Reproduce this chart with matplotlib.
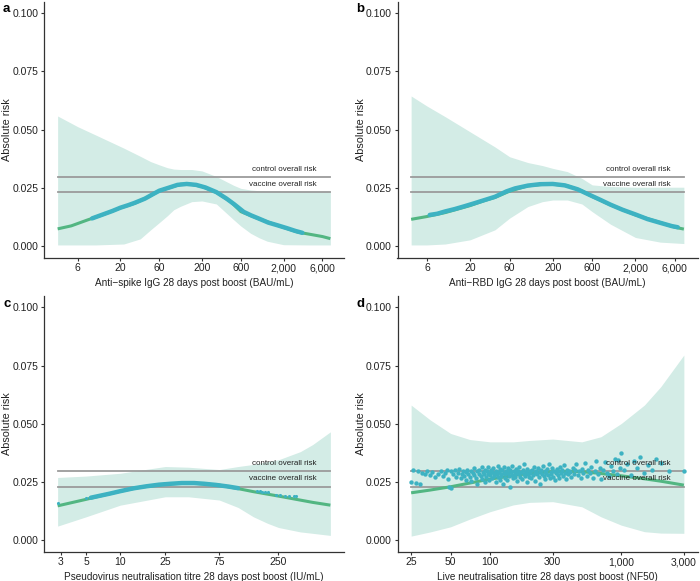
import matplotlib
matplotlib.use("Agg")
import matplotlib.pyplot as plt
import numpy as np

plt.rcParams['font.family'] = ['Liberation Sans', 'DejaVu Sans']

# ---- data ----
control_risk = 0.0295
vaccine_risk = 0.023

# panel a: anti-spike IgG
a_curve_x = [3.4, 5, 8, 12, 20, 30, 45, 60, 80, 110, 150, 200, 300, 450, 600, 1000, 2000, 3000, 6000, 7500]
a_curve_y = [.0073, .0086, .0112, .0133, .0163, .0183, .0212, .0237, .0250, .0265, .0264, .0255, .0230, .0190,
             .0147, .0116, .0079, .0059, .0040, .0031]
a_rib_x = [3.4, 6, 10, 22, 35, 47, 60, 75, 90, 109, 150, 200, 300, 490, 600, 790, 1000, 1260, 2000, 4000, 7500]
a_rib_hi = [.0558, .0512, .0476, .0420, .0385, .0362, .0348, .0336, .0330, .0328, .0328, .0322, .0298, .0260,
            .0247, .0240, .0237, .0236, .0235, .0234, .0233]
a_rib_lo = [.0004, .0004, .0004, .0008, .0030, .0069, .0100, .0129, .0155, .0170, .0190, .0193, .0180, .0112,
            .0085, .0054, .0035, .0020, .0005, .0004, .0004]
a_pts_x = [9, 12, 16, 20, 25, 30, 40, 50, 60, 80, 100, 130, 170, 220, 300, 400, 500, 650, 800, 1000, 1300,
           1700, 2200, 2800, 3400]
a_pts_y = [.0118, .0134, .0150, .0164, .0175, .0185, .0203, .0222, .0237, .0251, .0262, .0266, .0262, .0251,
           .0231, .0203, .0178, .0146, .0131, .0117, .0100, .0088, .0076, .0064, .0056]

# panel b: anti-RBD IgG
b_curve_x = [3.87, 6, 10, 20, 30, 40, 60, 100, 150, 200, 300, 450, 600, 1000, 2000, 4000, 6000, 7710]
b_curve_y = [.0114, .0126, .0143, .0173, .0195, .0208, .0235, .0258, .0264, .0265, .0258, .0236, .0212, .0176,
             .0133, .0100, .0080, .0072]
b_rib_x = [3.87, 6, 10, 20, 40, 60, 100, 150, 200, 300, 450, 600, 1000, 2000, 4000, 7710]
b_rib_hi = [.0644, .0601, .0555, .0490, .0425, .0383, .0358, .0345, .0333, .0319, .0290, .0262, .0255, .0252,
            .0252, .0252]
b_rib_lo = [.0004, .0004, .0008, .0026, .0069, .0119, .0169, .0190, .0197, .0197, .0180, .0147, .0093, .0036,
            .0016, .0010]
b_pts_x = [6.5, 8, 10, 13, 17, 22, 30, 40, 55, 70, 100, 140, 200, 280, 400, 550, 750, 1000, 1400, 2000, 2800,
           4000, 5500, 6500]
b_pts_y = [.0133, .0138, .0148, .0158, .0170, .0182, .0197, .0211, .0234, .0247, .0259, .0265, .0266, .0260,
           .0243, .0220, .0198, .0177, .0155, .0135, .0115, .0099, .0085, .0080]

# panel c: pseudovirus neutralisation
c_curve_x = [2.8, 5, 10, 15, 25, 40, 75, 110, 150, 250, 500, 718]
c_curve_y = [.0147, .0175, .0210, .0227, .0240, .0246, .0236, .0221, .0208, .0189, .0162, .0150]
c_rib_x = [2.8, 5, 10, 25, 40, 75, 110, 150, 200, 250, 390, 500, 718]
c_rib_hi = [.0269, .0275, .0287, .0316, .0313, .0303, .0316, .0325, .0337, .0345, .0380, .0410, .0465]
c_rib_lo = [.0060, .0100, .0150, .0186, .0186, .0172, .0140, .0100, .0072, .0054, .0035, .0029, .0020]
c_pts_x = [5.5, 6, 8, 10, 13, 17, 22, 28, 35, 45, 55, 70, 90, 110]
c_pts_y = [.0182, .0186, .0199, .0210, .0222, .0231, .0238, .0242, .0245, .0245, .0242, .0237, .0230, .0223]
c_dots_x = [2.8, 5, 160, 170, 180, 190, 200, 240, 260, 285, 310, 340, 360]
c_dots_y = [.0158, .0180, .0210, .0209, .0208, .0207, .0206, .0193, .0192, .0191, .0190, .0189, .0188]

# panel d: live neutralisation
d_curve_x = [25, 35, 50, 70, 100, 150, 200, 300, 450, 520, 700, 1000, 1430, 2000, 3000]
d_curve_y = [.0203, .0215, .0229, .0245, .0262, .0277, .0287, .0294, .0295, .0293, .0286, .0276, .0265, .0253, .0236]
d_rib_x = [25, 35, 50, 70, 100, 150, 200, 300, 500, 700, 1000, 1500, 2000, 3000]
d_rib_hi = [.0580, .0516, .0458, .0432, .0422, .0422, .0428, .0434, .0422, .0444, .0501, .0580, .0659, .0795]
d_rib_lo = [.0017, .0035, .0057, .0090, .0122, .0151, .0162, .0165, .0143, .0100, .0064, .0036, .0030, .0029]
d_pts_x = [25, 26, 27, 28, 29, 30, 32, 33, 35, 36, 38, 40, 42, 44, 45, 47, 48, 49, 50, 50,
           52, 54, 55, 57, 58, 60, 61, 62, 63, 65, 66, 67, 68, 70, 71, 72, 74, 75, 76, 78, 79, 80, 82, 83, 85,
           86, 87, 88, 90, 91, 92, 93, 95, 96, 97, 98, 99,
           100, 101, 103, 104, 105, 107, 108, 110, 111, 112, 114, 115, 117, 118, 120, 121, 122, 124, 125, 127,
           128, 130, 131, 133, 135, 136, 138, 140, 141, 143, 145, 147, 148, 150, 152, 154, 155, 157, 159, 160,
           162, 165, 167, 170, 172, 175, 177, 180, 182, 185, 187, 190, 192, 195, 197, 200,
           203, 206, 209, 212, 215, 218, 221, 225, 228, 231, 235, 238, 242, 245, 249, 252, 256, 260, 264, 268,
           272, 276, 280, 285, 289, 293, 298, 302, 307, 312, 317, 322, 327, 332, 338, 343, 349, 355, 361, 367,
           373, 379, 386, 392, 398,
           405, 415, 425, 435, 445, 455, 465, 475, 490, 500, 515, 530, 545, 560, 575, 590, 610, 625, 645, 665,
           685, 705, 730, 755, 780, 805, 830, 860, 890, 920, 950, 980,
           1000, 1050, 1100, 1180, 1250, 1320, 1400, 1500, 1600, 1700, 1850, 2000, 2300, 3000]
d_pts_y = [.0250, .0300, .0245, .0295, .0240, .0290, .0285, .0298, .0278, .0292, .0270, .0283, .0296, .0275,
           .0288, .0300, .0262, .0230, .0225, .0295,
           .0282, .0300, .0270, .0290, .0305, .0265, .0286, .0298, .0276, .0292, .0260, .0302, .0283, .0271,
           .0296, .0255, .0289, .0308, .0278, .0268, .0295, .0240, .0285, .0300, .0274, .0312, .0262, .0291,
           .0283, .0250, .0303, .0270, .0296, .0285, .0315, .0260, .0290,
           .0280, .0300, .0265, .0292, .0310, .0275, .0288, .0250, .0298, .0283, .0320, .0270, .0293, .0258,
           .0305, .0285, .0275, .0300, .0240, .0290, .0315, .0268, .0282, .0297, .0260, .0308, .0287, .0275,
           .0302, .0230, .0292, .0280, .0318, .0265, .0295, .0285, .0272, .0304, .0290, .0255, .0298, .0282,
           .0312, .0270, .0294, .0262, .0300, .0286, .0325, .0276, .0292, .0248, .0305, .0283, .0270, .0296,
           .0288, .0265, .0300, .0278, .0315, .0290, .0255, .0297, .0283, .0308, .0270, .0292, .0240, .0302,
           .0285, .0318, .0275, .0296, .0262, .0288, .0305, .0280, .0325, .0268, .0293, .0284, .0310, .0272,
           .0298, .0258, .0290, .0306, .0279, .0295, .0265, .0312, .0287, .0300, .0275, .0322, .0290, .0262,
           .0303, .0283, .0296,
           .0292, .0270, .0310, .0285, .0300, .0325, .0278, .0296, .0265, .0305, .0288, .0330, .0275, .0300,
           .0290, .0315, .0268, .0295, .0340, .0285, .0310, .0262, .0300, .0335, .0290, .0275, .0320, .0298,
           .0350, .0282, .0345, .0310,
           .0372, .0300, .0325, .0280, .0338, .0310, .0355, .0290, .0322, .0300, .0348, .0330, .0298, .0297]

a_ticks = [6, 20, 60, 200, 600, 2000, 6000]
b_ticks = [6, 20, 60, 200, 600, 2000, 6000]
c_ticks = [3, 5, 10, 25, 75, 250]
d_ticks = [25, 50, 100, 300, 1000, 3000]

a_xlabel = 'Anti\u2212spike IgG 28 days post boost (BAU/mL)'
b_xlabel = 'Anti\u2212RBD IgG 28 days post boost (BAU/mL)'
c_xlabel = 'Pseudovirus neutralisation titre 28 days post boost (IU/mL)'
d_xlabel = 'Live neutralisation titre 28 days post boost (NF50)'

# ---- style ----
RIBBON = '#d3ece6'
GREEN = '#52b682'
TEAL = '#3db2c2'
GREY = '#9b9b9b'
DARK = '#333333'

fig = plt.figure(figsize=(7, 5.81), dpi=100)
W, H = 700, 581


def make_ax(left, top, letter):
    ax = fig.add_axes([left / W, 1 - (top + 256) / H, 300 / W, 256 / H])
    fig.text((left - 41) / W, 1 - (top + 2) / H, letter, fontsize=9.5, fontweight='bold', va='top', ha='left')
    return ax


def draw(ax, cx, cy, rx, rlo, rhi, px, py, ticks, xlabel, dots=None, scatter=None):
    ax.set_xscale('log')
    ax.fill_between(rx, rlo, rhi, color=RIBBON, lw=0, zorder=1)
    x0, x1 = rx[0], rx[-1]
    ax.plot([x0, x1], [control_risk, control_risk], color=GREY, lw=1.3, zorder=2)
    ax.plot([x0, x1], [vaccine_risk, vaccine_risk], color=GREY, lw=1.3, zorder=2)
    ax.plot(cx, cy, color=GREEN, lw=2.2, solid_capstyle='butt', zorder=3)
    if px is not None:
        ax.plot(px, py, color=TEAL, lw=3.2, solid_capstyle='round', zorder=4)
    if dots is not None:
        ax.scatter(dots[0], dots[1], s=5, color=TEAL, lw=0, zorder=4)
    if scatter is not None:
        ax.scatter(scatter[0], scatter[1], s=10, color=TEAL, lw=0, zorder=4)
    ax.annotate('control overall risk', xy=(x1, control_risk), xytext=(-9.7, 5.6), textcoords='offset points',
                ha='right', va='center', fontsize=5.8, color='#222222', zorder=5)
    ax.annotate('vaccine overall risk', xy=(x1, vaccine_risk), xytext=(-9.7, 5.6), textcoords='offset points',
                ha='right', va='center', fontsize=5.8, color='#222222', zorder=5)

    lo, hi = np.log10(x0), np.log10(x1)
    pad = 0.05 * (hi - lo)
    ax.set_xlim(10 ** (lo - pad), 10 ** (hi + pad))
    ax.set_ylim(-0.005, 0.105)
    ax.set_xticks(ticks)
    ax.set_xticklabels([f'{t:,}' for t in ticks])
    ax.xaxis.set_minor_locator(matplotlib.ticker.NullLocator())
    ax.set_yticks([0, 0.025, 0.05, 0.075, 0.1])
    ax.set_yticklabels(['0.000', '0.025', '0.050', '0.075', '0.100'])
    for s in ['top', 'right']:
        ax.spines[s].set_visible(False)
    for s in ['left', 'bottom']:
        ax.spines[s].set_color(DARK)
        ax.spines[s].set_linewidth(0.9)
    ax.tick_params(length=2.5, width=0.8, color=DARK, labelsize=7.5, labelcolor='#222222', pad=1.5)
    ax.set_xlabel(xlabel, fontsize=7.2, color='#222222', va='center')
    ax.xaxis.set_label_coords(0.5, -0.099)
    ax.set_ylabel('Absolute risk', fontsize=7.8, color='#222222', va='center')
    ax.yaxis.set_label_coords(-0.122, 0.5)


ax_a = make_ax(44, 1.5, 'a')
draw(ax_a, a_curve_x, a_curve_y, a_rib_x, a_rib_lo, a_rib_hi, a_pts_x, a_pts_y, a_ticks, a_xlabel)
ax_b = make_ax(397.5, 1.5, 'b')
draw(ax_b, b_curve_x, b_curve_y, b_rib_x, b_rib_lo, b_rib_hi, b_pts_x, b_pts_y, b_ticks, b_xlabel)
ax_c = make_ax(44, 295.7, 'c')
draw(ax_c, c_curve_x, c_curve_y, c_rib_x, c_rib_lo, c_rib_hi, c_pts_x, c_pts_y, c_ticks, c_xlabel,
     dots=(c_dots_x, c_dots_y))
ax_d = make_ax(397.5, 295.7, 'd')
draw(ax_d, d_curve_x, d_curve_y, d_rib_x, d_rib_lo, d_rib_hi, None, None, d_ticks, d_xlabel,
     scatter=(d_pts_x, d_pts_y))

fig.savefig('out.png', dpi=100)
